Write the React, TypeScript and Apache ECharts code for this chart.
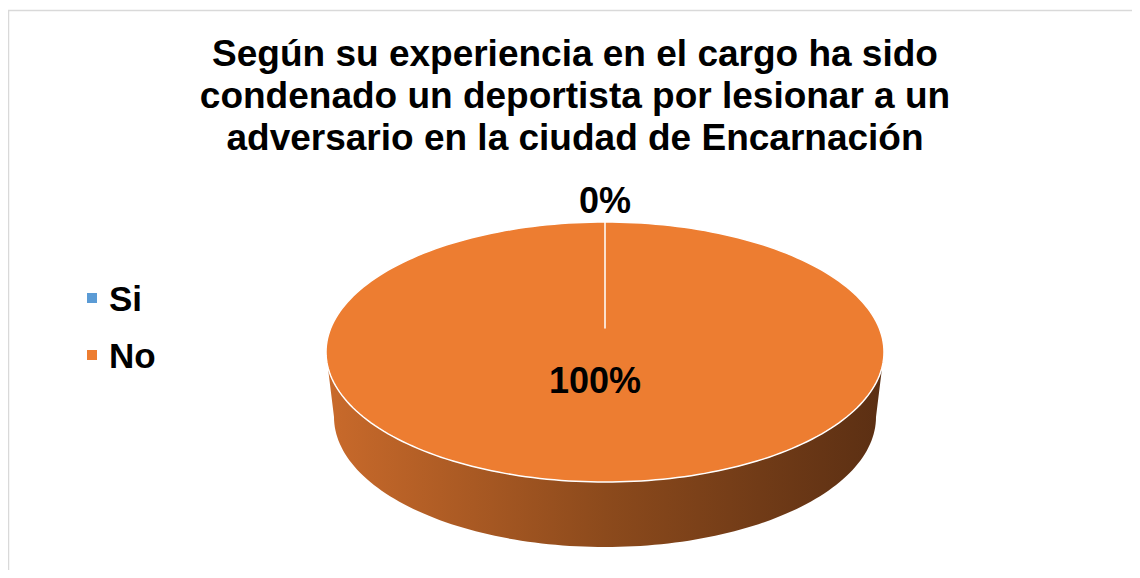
import React, { useEffect, useRef } from "react";
import * as echarts from "echarts";

const titleLines = [
  "Según su experiencia en el cargo ha sido",
  "condenado un deportista por lesionar a un",
  "adversario en la ciudad de Encarnación",
];
const categories = ["Si", "No"];
const values = [0, 100];

const topColors = ["#5B9BD5", "#ED7D31"];
const sideStops = [
  ["#4a7fb0", "#2a4a6a", "#1e3550"],
  ["#c96a2b", "#8c4a1c", "#5b2f13"],
];
const FONT = "'Liberation Sans', Arial, sans-serif";

// geometry (chart px)
const CX = 597;
const CY = 344;
const RX = 279;
const RY = 130;
const APEX_Y = 320;
const BCY = 409;
const BRX = 271;
const BRY = 130;

function arc(cx: number, cy: number, rx: number, ry: number, t0: number, t1: number) {
  const pts: number[][] = [];
  const n = Math.max(2, Math.ceil((Math.abs(t1 - t0) / (2 * Math.PI)) * 240));
  for (let k = 0; k <= n; k++) {
    const t = t0 + ((t1 - t0) * k) / n;
    pts.push([cx + rx * Math.cos(t), cy + ry * Math.sin(t)]);
  }
  return pts;
}

function makeRender(i: number) {
  return (params: any, api: any) => {
    const total = values.reduce((a, b) => a + b, 0);
    const v = api.value(0);
    let cum = 0;
    for (let k = 0; k < i; k++) cum += values[k];
    const t0 = -Math.PI / 2 + (2 * Math.PI * cum) / total;
    const t1 = t0 + (2 * Math.PI * v) / total;
    const children: any[] = [];

    // side (front half only)
    const s0 = Math.max(t0, 0);
    const s1 = Math.min(t1, Math.PI);
    if (s1 > s0) {
      const topArc = arc(CX, CY, RX, RY, s0, s1);
      const botArc = arc(CX, BCY, BRX, BRY, s1, s0);
      const st = sideStops[i];
      children.push({
        type: "polygon",
        z2: 1,
        shape: { points: topArc.concat(botArc) },
        style: {
          fill: new echarts.graphic.LinearGradient(
            CX - RX,
            0,
            CX + RX,
            0,
            [
              { offset: 0, color: st[0] },
              { offset: 0.5, color: st[1] },
              { offset: 1, color: st[2] },
            ],
            true
          ),
          stroke: "none",
        },
      });
    }

    // top face
    const topPts = [[CX, APEX_Y]].concat(arc(CX, CY, RX, RY, t0, t1));
    topPts.push([CX, APEX_Y]);
    children.push({
      type: "polygon",
      z2: 10,
      shape: { points: topPts },
      style: {
        fill: topColors[i],
        stroke: "#ffffff",
        lineWidth: 1.5,
        lineJoin: "round",
      },
    });

    // label
    const share = v / total;
    const mid = (t0 + t1) / 2;
    const pct = Math.round(share * 100) + "%";
    let lx: number;
    let ly: number;
    if (share < 0.05) {
      lx = CX + RX * Math.cos(mid);
      ly = CY + RY * Math.sin(mid) - 22;
    } else {
      lx = CX + RX * 0.22 * Math.cos(mid) - 10;
      ly = CY + RY * 0.22 * Math.sin(mid);
    }
    children.push({
      type: "text",
      z2: 100,
      x: lx,
      y: ly,
      style: {
        text: pct,
        fill: "#000000",
        font: `bold 36px ${FONT}`,
        align: "center",
        verticalAlign: "middle",
      },
    });

    return { type: "group", children };
  };
}

export default function App() {
  const ref = useRef<HTMLDivElement>(null);
  useEffect(() => {
    if (!ref.current) return;
    const chart = echarts.init(ref.current, null, { renderer: "svg" });
    chart.setOption({
      animation: false,
      backgroundColor: "#ffffff",
      title: {
        text: titleLines.join("\n"),
        left: 567,
        top: 24,
        textAlign: "center",
        padding: 0,
        textStyle: {
          fontFamily: FONT,
          fontSize: 37,
          fontWeight: "bold",
          color: "#000000",
          lineHeight: 42,
        },
      },
      legend: {
        data: categories,
        orient: "vertical",
        left: 74,
        top: 265,
        itemWidth: 10,
        itemHeight: 10,
        itemGap: 17,
        icon: "rect",
        selectedMode: false,
        textStyle: {
          fontFamily: FONT,
          fontSize: 35,
          fontWeight: "bold",
          color: "#000000",
          lineHeight: 40,
          padding: [0, 0, 0, 7],
        },
      },
      graphic: [
        {
          type: "rect",
          shape: { x: 0.5, y: 2.5, width: 1300, height: 700 },
          style: { fill: "none", stroke: "#d9d9d9", lineWidth: 1.5 },
          silent: true,
        },
      ],
      series: categories.map((name, i) => ({
        type: "custom",
        name,
        coordinateSystem: "none",
        data: [values[i]],
        itemStyle: { color: topColors[i] },
        renderItem: makeRender(i),
      })),
    });
    return () => chart.dispose();
  }, []);
  return <div ref={ref} style={{ width: 1124, height: 562 }} />;
}
